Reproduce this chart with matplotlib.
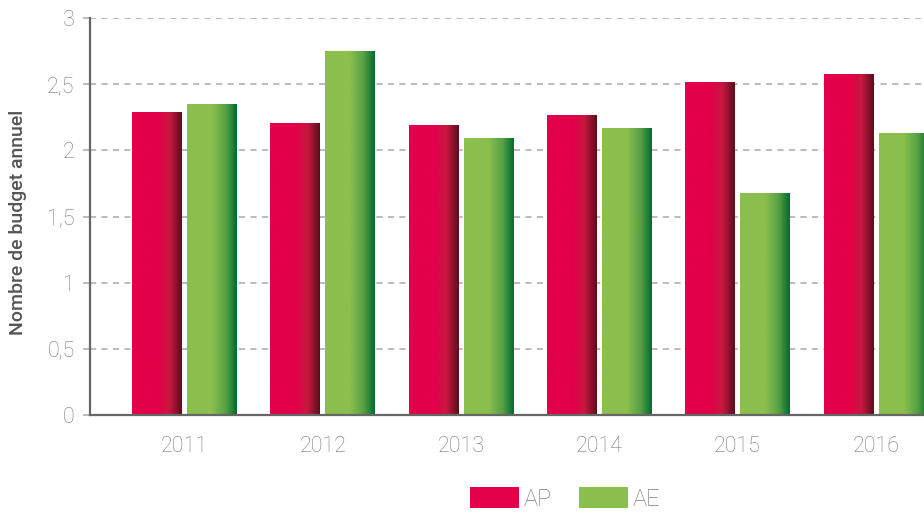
import numpy as np
import matplotlib
matplotlib.use('Agg')
import matplotlib.pyplot as plt
from matplotlib.colors import LinearSegmentedColormap
from matplotlib.patches import Patch

# Data
years = ['2011', '2012', '2013', '2014', '2015', '2016']
ap_values = [2.29, 2.21, 2.19, 2.27, 2.52, 2.58]
ae_values = [2.35, 2.75, 2.09, 2.17, 1.68, 2.13]
y_ticks = [0, 0.5, 1, 1.5, 2, 2.5, 3]
y_tick_labels = ['0', '0,5', '1', '1,5', '2', '2,5', '3']

ap_color = '#E4004A'
ae_color = '#8BBF4E'
ap_cmap = LinearSegmentedColormap.from_list(
    'ap', [(0, ap_color), (0.5, ap_color), (0.75, '#C91740'), (1, '#5A0E1C')])
ae_cmap = LinearSegmentedColormap.from_list(
    'ae', [(0, ae_color), (0.5, ae_color), (0.78, '#55A043'), (1, '#006B32')])

plt.rcParams['font.family'] = ['Roboto', 'DejaVu Sans']

fig = plt.figure(figsize=(9.24, 5.13), dpi=100)
# axes spans y = 0 (415 px from top) to 3 (18 px from top)
ax = fig.add_axes([90 / 924, 98 / 513, 834 / 924, 397 / 513])

x = np.arange(len(years))
width = 0.36
offset = 0.199
gradient = np.linspace(0, 1, 256).reshape(1, -1)


def gradient_bars(xpos, values, cmap):
    bars = ax.bar(xpos, values, width, color='none', edgecolor='none', zorder=2)
    for bar in bars:
        x0, y0 = bar.get_x(), bar.get_y()
        im = ax.imshow(gradient, cmap=cmap, aspect='auto', zorder=2,
                       extent=[x0, x0 + bar.get_width(), y0, y0 + bar.get_height()])
        im.set_clip_path(bar)
    return bars


gradient_bars(x - offset, ap_values, ap_cmap)
gradient_bars(x + offset, ae_values, ae_cmap)

ax.set_xlim(-0.683, 5.347)
ax.set_ylim(0, 3)
ax.set_xticks(x)
ax.set_xticklabels(years)
ax.set_yticks(y_ticks)
ax.set_yticklabels(y_tick_labels)

ax.yaxis.grid(True, linestyle=(0, (4, 3.5)), color='#aaaaaa', linewidth=1.1, zorder=0)
ax.set_axisbelow(True)
for side in ['top', 'right']:
    ax.spines[side].set_visible(False)
for side in ['left', 'bottom']:
    ax.spines[side].set_color('#666666')
    ax.spines[side].set_linewidth(1.6)
    ax.spines[side].set_zorder(3)

ax.tick_params(axis='y', length=5, width=1.1, color='#aaaaaa', pad=6,
               labelsize=15.5, labelcolor='#7a7a7a')
ax.tick_params(axis='x', length=0, pad=15, labelsize=15.5, labelcolor='#7a7a7a')
for lbl in ax.get_xticklabels() + ax.get_yticklabels():
    lbl.set_fontweight('light')

ax.set_ylabel('Nombre de budget annuel', fontsize=14, color='#555555',
              fontweight='medium')
ax.yaxis.set_label_coords(-0.076, (415 - 222) / 397)

handles = [Patch(facecolor=ap_color, label='AP'), Patch(facecolor=ae_color, label='AE')]
leg = fig.legend(handles=handles, loc='upper left', bbox_to_anchor=(469 / 924, 1 - 486 / 513),
                 ncol=2, frameon=False, fontsize=17, handlelength=2.07, handleheight=1.0,
                 handletextpad=0.2, columnspacing=1.15, borderpad=0.05, borderaxespad=0)
for t in leg.get_texts():
    t.set_color('#7a7a7a')
    t.set_fontweight('light')

fig.savefig('out.png', dpi=100)
